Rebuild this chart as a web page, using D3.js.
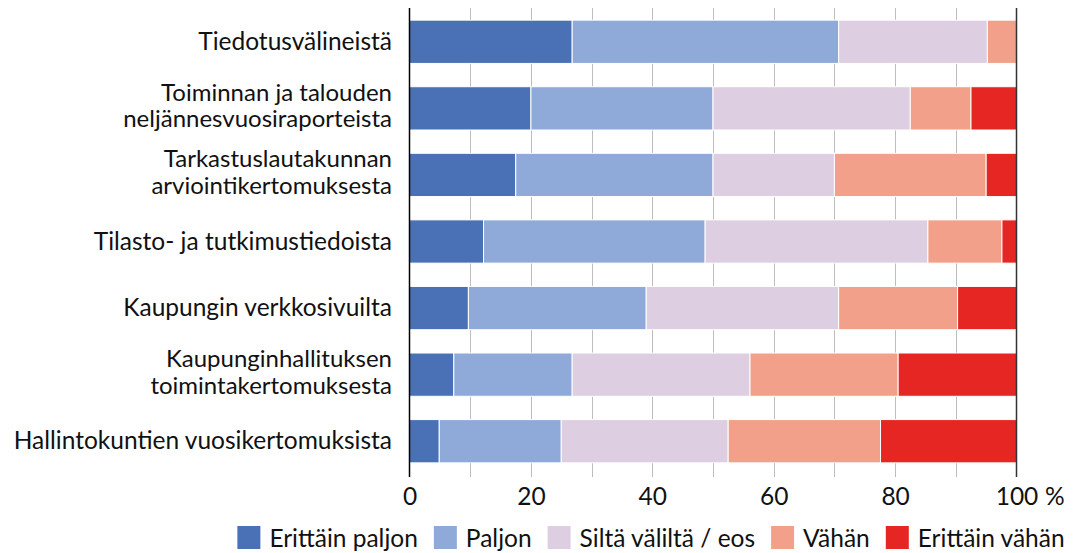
<!DOCTYPE html>
<html>
<head>
<meta charset="utf-8">
<script src="https://cdn.jsdelivr.net/npm/d3@7"></script>
<style>
  html, body { margin: 0; padding: 0; background: #fff; }
  svg { display: block; }
  text { font-family: Lato, "Open Sans", sans-serif; fill: #111; }
</style>
</head>
<body>
<svg id="chart" width="1075" height="553"></svg>
<script>
// ---- Data ----
const categories = [
  ["Tiedotusvälineistä"],
  ["Toiminnan ja talouden", "neljännesvuosiraporteista"],
  ["Tarkastuslautakunnan", "arviointikertomuksesta"],
  ["Tilasto- ja tutkimustiedoista"],
  ["Kaupungin verkkosivuilta"],
  ["Kaupunginhallituksen", "toimintakertomuksesta"],
  ["Hallintokuntien vuosikertomuksista"]
];
const seriesNames = ["Erittäin paljon", "Paljon", "Siltä väliltä / eos", "Vähän", "Erittäin vähän"];
const erittainPaljon = [26.8, 20.0, 17.5, 12.2, 9.7, 7.3, 4.9];
const paljon         = [43.9, 30.0, 32.5, 36.5, 29.3, 19.5, 20.1];
const siltaValilta   = [24.5, 32.5, 20.0, 36.7, 31.7, 29.3, 27.5];
const vahan          = [4.8, 10.0, 25.0, 12.2, 19.6, 24.4, 25.1];
const erittainVahan  = [0.0, 7.5, 5.0, 2.4, 9.7, 19.5, 22.4];
const xTicks = [0, 20, 40, 60, 80, 100];
const colors = ["#4A71B6", "#8FAAD9", "#DDCFE1", "#F3A08A", "#E52622"];

const seriesValues = [erittainPaljon, paljon, siltaValilta, vahan, erittainVahan];
const rows = categories.map((c, i) => {
  const r = { key: i };
  seriesNames.forEach((s, j) => r[s] = seriesValues[j][i]);
  return r;
});

const svg = d3.select("#chart");
const x = d3.scaleLinear().domain([0, 100]).range([409.5, 1016.5]);
const y = d3.scaleBand().domain(d3.range(categories.length)).range([8.5, 474.5]).paddingInner(0.35).paddingOuter(0.175);

// gridlines
const gridTop = 8, gridBottom = 477;
svg.append("g").selectAll("line")
  .data(d3.range(10, 100, 10))
  .join("line")
  .attr("x1", d => Math.round(x(d)) + 0.5).attr("x2", d => Math.round(x(d)) + 0.5)
  .attr("y1", gridTop).attr("y2", gridBottom)
  .attr("stroke", "#bdbdbd").attr("stroke-width", 1);

// bars
const stack = d3.stack().keys(seriesNames);
const stacked = stack(rows);
svg.append("g").selectAll("g")
  .data(stacked)
  .join("g")
  .attr("fill", (d, i) => colors[i])
  .selectAll("rect")
  .data(d => d.filter(p => p[1] - p[0] > 0))
  .join("rect")
  .attr("x", d => x(d[0]))
  .attr("width", d => x(d[1]) - x(d[0]))
  .attr("y", d => y(d.data.key))
  .attr("height", y.bandwidth())
  .attr("stroke", "#fff").attr("stroke-width", 1);

// axis lines at 0 and 100
svg.append("line").attr("x1", x(0)).attr("x2", x(0)).attr("y1", gridTop).attr("y2", gridBottom)
  .attr("stroke", "#000").attr("stroke-width", 1.5);
svg.append("line").attr("x1", x(100)).attr("x2", x(100)).attr("y1", gridTop).attr("y2", gridBottom)
  .attr("stroke", "#333").attr("stroke-width", 1.5);

// x tick labels
const fs = 24.5;
const xAxis = d3.axisBottom(x).tickValues(xTicks).tickSize(0).tickPadding(0).tickFormat(d3.format("d"));
const xg = svg.append("g").attr("transform", "translate(0,488)").call(xAxis);
xg.select(".domain").remove();
xg.selectAll("text").attr("font-size", fs).attr("font-family", "Lato, sans-serif").attr("fill", "#111")
  .attr("dy", null).attr("y", 17);
svg.append("text").attr("x", 1045).attr("y", 505).attr("font-size", fs).text("%");

// category labels
const labelX = 392;
const lfs = 24;
categories.forEach((lines, i) => {
  const cy = y(i) + y.bandwidth() / 2;
  if (lines.length === 1) {
    svg.append("text").attr("text-anchor", "end").attr("font-size", fs)
      .attr("x", labelX).attr("y", cy + 8).text(lines[0]);
  } else {
    svg.append("text").attr("text-anchor", "end").attr("font-size", lfs)
      .attr("x", labelX).attr("y", cy - 7.5).text(lines[0]);
    svg.append("text").attr("text-anchor", "end").attr("font-size", lfs)
      .attr("x", labelX).attr("y", cy + 19).text(lines[1]);
  }
});

// legend
const legend = svg.append("g");
const items = legend.selectAll("g").data(seriesNames).join("g");
items.append("rect").attr("width", 23).attr("height", 23).attr("y", 526)
  .attr("fill", (d, i) => colors[i]);
items.append("text").attr("x", 32).attr("y", 546.5).attr("font-size", fs).text(d => d);
let cur = 0;
const pos = [];
items.each(function(d) {
  const w = d3.select(this).select("text").node().getComputedTextLength();
  pos.push(cur);
  cur += 32 + w + 16;
});
const total = cur - 16;
const start = 651 - total / 2;
items.attr("transform", (d, i) => `translate(${start + pos[i]},0)`);
</script>
</body>
</html>
